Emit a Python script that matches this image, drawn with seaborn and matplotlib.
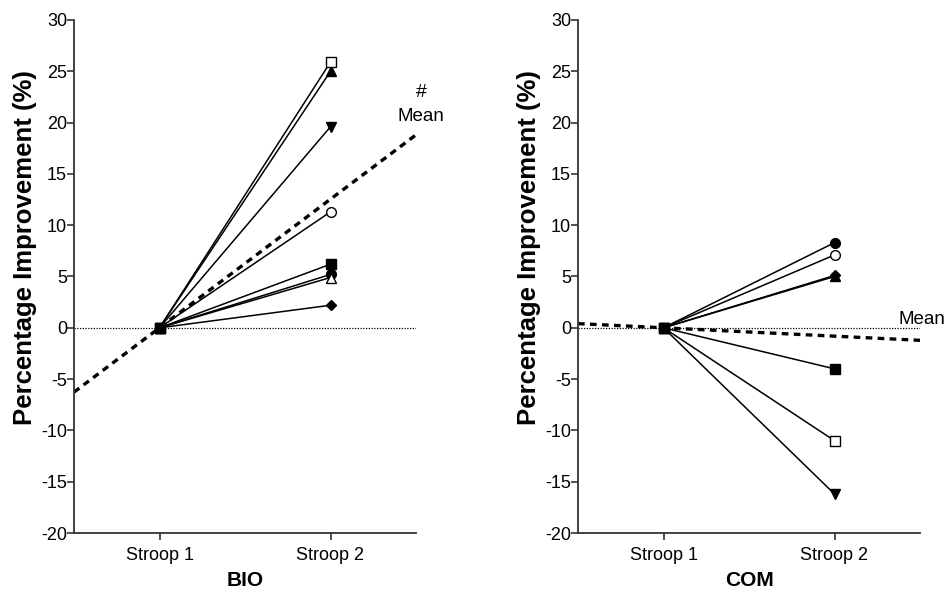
import numpy as np
import pandas as pd
import matplotlib
matplotlib.use("Agg")
import matplotlib.pyplot as plt
import seaborn as sns

# ---- data ----
timepoints = ["Stroop 1", "Stroop 2"]
bio_subjects = ["S1", "S2", "S3", "S4", "S5", "S6", "S7", "S8"]
bio_stroop1 = [0, 0, 0, 0, 0, 0, 0, 0]
bio_stroop2 = [5.2, 6.2, 25.0, 19.6, 2.2, 11.3, 25.9, 4.9]
com_subjects = ["S1", "S2", "S3", "S4", "S5", "S6", "S7"]
com_stroop1 = [0, 0, 0, 0, 0, 0, 0]
com_stroop2 = [8.3, -4.0, 5.0, -16.2, 5.1, 7.1, -11.0]
panel_titles = ["BIO", "COM"]
y_ticks = list(range(-20, 31, 5))

# marker style per subject (Prism-like order)
marker_shapes = ["o", "s", "^", "v", "D", "o", "s", "^"]
marker_filled = [True, True, True, True, True, False, False, False]

sns.set_style("ticks")
plt.rcParams["font.family"] = ["Liberation Sans", "DejaVu Sans"]
plt.rcParams["text.color"] = "black"
plt.rcParams["axes.labelcolor"] = "black"
plt.rcParams["xtick.color"] = "black"
plt.rcParams["ytick.color"] = "black"

fig = plt.figure(figsize=(9.44, 5.94), dpi=100)
ax_l = fig.add_axes([74 / 944, 61 / 594, 342 / 944, 513 / 594])
ax_r = fig.add_axes([578 / 944, 61 / 594, 342 / 944, 513 / 594])


def draw_panel(ax, subjects, s1, s2, title):
    df = pd.DataFrame({
        "subject": np.repeat(subjects, 2),
        "time": timepoints * len(subjects),
        "value": np.ravel(np.column_stack([s1, s2])),
    })
    order = list(range(len(subjects)))
    # draw filled square last so it sits on top at Stroop 1
    order = [i for i in order if i != 1] + [1]
    for i in order:
        sub = df[df["subject"] == subjects[i]]
        ms = 7 if marker_shapes[i] != "D" else 5.5
        sns.lineplot(data=sub, x="time", y="value", ax=ax, color="black",
                     linewidth=1.1, marker=marker_shapes[i], markersize=ms,
                     markerfacecolor="black" if marker_filled[i] else "white",
                     markeredgecolor="black", markeredgewidth=1.0,
                     legend=False, sort=False, zorder=3)
    ax.axline((0, float(np.mean(s1))), (1, float(np.mean(s2))), color="black",
              linewidth=2.4, linestyle=(0, (2.0, 1.6)), zorder=2)
    ax.axhline(0, color="black", linewidth=0.9, linestyle=(0, (1, 1.2)), zorder=1)
    ax.set_xlim(-0.5, 1.5)
    ax.set_ylim(-20, 30)
    ax.set_yticks(y_ticks)
    ax.set_yticklabels([str(t) for t in y_ticks])
    ax.set_xticks([0, 1])
    ax.set_xticklabels(timepoints)
    ax.tick_params(axis="both", labelsize=13, length=5, width=1.2,
                   direction="out", color="#333333")
    ax.tick_params(axis="y", pad=0)
    ax.tick_params(axis="x", pad=5)
    ax.set_xlabel(title, fontsize=15, fontweight="bold", labelpad=5)
    ax.set_ylabel("Percentage Improvement (%)", fontsize=18.5,
                  fontweight="bold")
    ax.yaxis.set_label_coords(-0.108, 0.557)
    for side in ["top", "right"]:
        ax.spines[side].set_visible(False)
    for side in ["left", "bottom"]:
        ax.spines[side].set_linewidth(1.3)
        ax.spines[side].set_color("#333333")


draw_panel(ax_l, bio_subjects, bio_stroop1, bio_stroop2, panel_titles[0])
draw_panel(ax_r, com_subjects, com_stroop1, com_stroop2, panel_titles[1])

ax_l.text(1.53, 22.9, "#", ha="center", va="center", fontsize=14, clip_on=False)
ax_l.text(1.53, 20.6, "Mean", ha="center", va="center", fontsize=13.5, clip_on=False)
ax_r.text(1.51, 0.0, "Mean", ha="center", va="bottom", fontsize=13.5, clip_on=False)

fig.savefig("out.png", dpi=100)
